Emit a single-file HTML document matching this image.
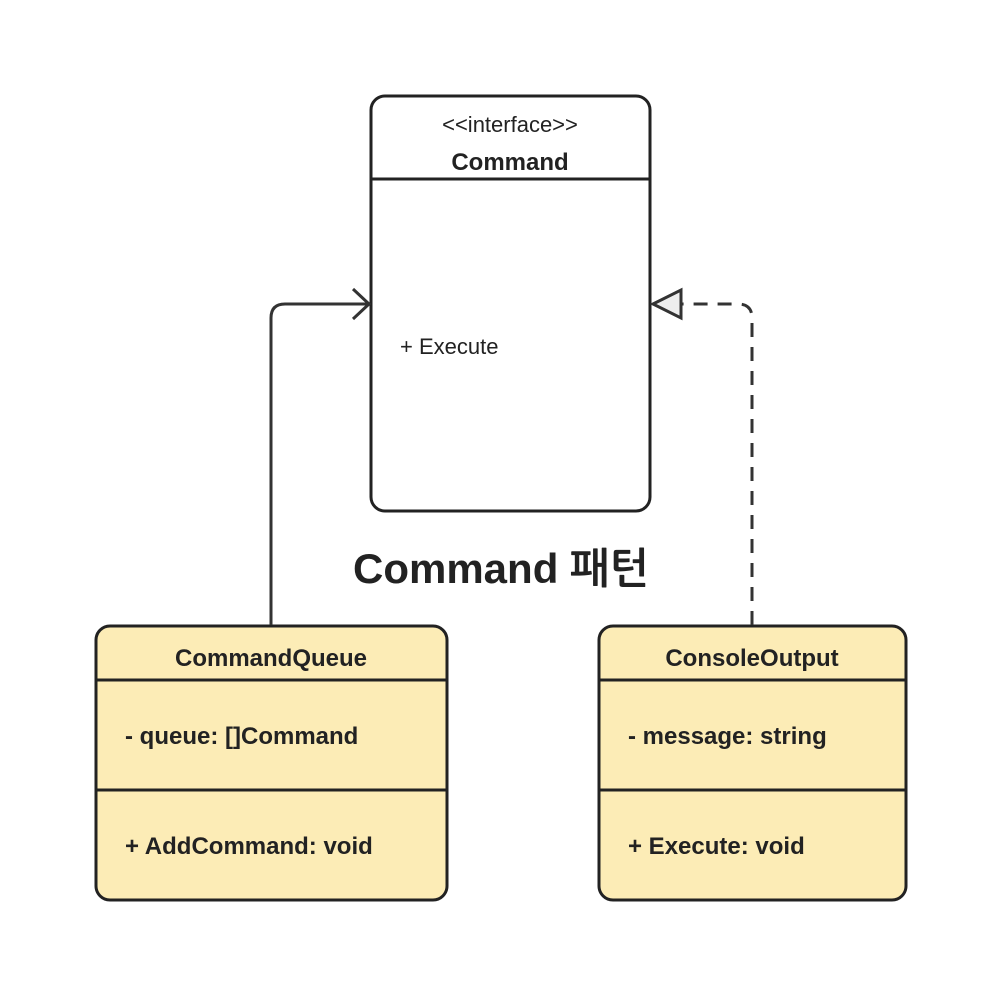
<!DOCTYPE html>
<html><head><meta charset="utf-8"><style>
html,body{margin:0;padding:0;background:#fff;}
svg{display:block;}
text{font-family:"Liberation Sans","NanumGothic","Noto Sans CJK KR",sans-serif;fill:#222;}
</style></head><body>
<svg width="1003" height="996" viewBox="0 0 1003 996" xmlns="http://www.w3.org/2000/svg">
<rect x="0" y="0" width="1003" height="996" fill="#fff"/>
<!-- Command interface -->
<rect x="371" y="96" width="279" height="415" rx="14" fill="#fff" stroke="#222" stroke-width="3"/>
<line x1="371" y1="179" x2="650" y2="179" stroke="#222" stroke-width="3"/>
<text x="510" y="132" font-size="22" text-anchor="middle">&lt;&lt;interface&gt;&gt;</text>
<text x="510" y="170" font-size="24" font-weight="bold" text-anchor="middle">Command</text>
<text x="400" y="354" font-size="22">+ Execute</text>
<!-- Title -->
<text x="501" y="583" font-size="42" font-weight="bold" text-anchor="middle">Command 패턴</text>
<!-- CommandQueue -->
<rect x="96" y="626" width="351" height="274" rx="14" fill="#fcecb6" stroke="#222" stroke-width="3"/>
<line x1="96" y1="680" x2="447" y2="680" stroke="#222" stroke-width="3"/>
<line x1="96" y1="790" x2="447" y2="790" stroke="#222" stroke-width="3"/>
<text x="271" y="666" font-size="24" font-weight="bold" text-anchor="middle">CommandQueue</text>
<text x="125" y="744" font-size="24" font-weight="bold" fill="#333">- queue: []Command</text>
<text x="125" y="854" font-size="24" font-weight="bold" fill="#333">+ AddCommand: void</text>
<!-- ConsoleOutput -->
<rect x="599" y="626" width="307" height="274" rx="14" fill="#fcecb6" stroke="#222" stroke-width="3"/>
<line x1="599" y1="680" x2="906" y2="680" stroke="#222" stroke-width="3"/>
<line x1="599" y1="790" x2="906" y2="790" stroke="#222" stroke-width="3"/>
<text x="752" y="666" font-size="24" font-weight="bold" text-anchor="middle">ConsoleOutput</text>
<text x="628" y="744" font-size="24" font-weight="bold" fill="#333">- message: string</text>
<text x="628" y="854" font-size="24" font-weight="bold" fill="#333">+ Execute: void</text>
<!-- left connector -->
<path d="M271 625 L271 318 Q271 304 285 304 L369 304" fill="none" stroke="#333" stroke-width="3"/>
<path d="M353 289 L369 304 L353 319" fill="none" stroke="#333" stroke-width="3"/>
<!-- right connector dashed -->
<path d="M752 625 L752 318 Q752 304 738 304 L680 304" fill="none" stroke="#333" stroke-width="3" stroke-dasharray="14 10"/>
<path d="M653 304 L681 290 L681 318 Z" fill="#eee" stroke="#333" stroke-width="3" stroke-linejoin="miter"/>
</svg>
</body></html>
